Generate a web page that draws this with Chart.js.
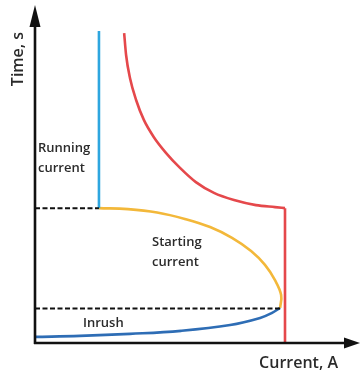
<!DOCTYPE html>
<html>
<head>
<meta charset="utf-8">
<script src="https://cdn.jsdelivr.net/npm/chart.js@4/dist/chart.umd.min.js"></script>
<style>
  html, body { margin: 0; padding: 0; background: #ffffff; }
  #wrap { width: 362px; height: 371px; }
</style>
</head>
<body>
<div id="wrap"><canvas id="c" width="362" height="371"></canvas></div>
<script>
// Schematic units: current 0-100 (x), time 0-100 (y)
const runningX = [19.8, 19.8];
const runningY = [39.9, 92.3];

const tripCurveX = [27.6, 28.2, 29.4, 31.3, 33.7, 36.8, 40.6, 44.9, 49.8, 55.4, 61.6, 68.4, 74.3, 77.4];
const tripCurveY = [91.7, 85.2, 78.4, 71.9, 66.0, 60.9, 56.2, 51.8, 47.6, 44.4, 42.3, 40.8, 40.2, 39.9];
const tripVertX = [77.4, 77.4];
const tripVertY = [39.9, 0];

const startingX = [19.8, 28.8, 37.8, 46.4, 54.2, 61.0, 66.9, 71.2, 74.3, 76.2, 75.9];
const startingY = [39.9, 39.6, 38.6, 36.7, 34.3, 31.1, 27.2, 23.1, 18.6, 14.2, 10.4];

const inrushX = [0, 13.9, 29.4, 45.2, 60.4, 69.7, 73.4, 75.9];
const inrushY = [1.8, 2.1, 2.7, 3.6, 5.3, 7.4, 8.9, 10.4];

const dashUpperX = [0, 19.8];
const dashUpperY = [39.9, 39.9];
const dashLowerX = [0, 75.9];
const dashLowerY = [10.2, 10.2];

const axisTitles = { x: "Current, A", y: "Time, s" };
const labelRunning = ["Running", "current"];
const labelStarting = ["Starting", "current"];
const labelInrush = ["Inrush"];

function pts(xs, ys) { return xs.map((x, i) => ({ x: x, y: ys[i] })); }

function ds(xs, ys, color, width, tension, dash, mode) {
  return {
    data: pts(xs, ys),
    borderColor: color,
    backgroundColor: color,
    borderWidth: width,
    borderDash: dash || [],
    pointRadius: 0,
    pointHoverRadius: 0,
    showLine: true,
    fill: false,
    tension: tension,
    cubicInterpolationMode: mode || 'default',
    clip: false
  };
}

const FONT = '"Open Sans", "DejaVu Sans", sans-serif';

const decor = {
  id: 'decor',
  afterDatasetsDraw(chart) {
    const ctx = chart.ctx;
    const a = chart.chartArea;
    const ox = a.left, oy = a.bottom;
    ctx.save();
    ctx.strokeStyle = '#111';
    ctx.fillStyle = '#111';
    ctx.lineWidth = 2.6;
    // y axis
    ctx.beginPath();
    ctx.moveTo(ox, oy + 1);
    ctx.lineTo(ox, a.top + 18);
    ctx.stroke();
    ctx.beginPath();
    ctx.moveTo(ox, a.top);
    ctx.lineTo(ox - 5.5, a.top + 22);
    ctx.lineTo(ox + 5.5, a.top + 22);
    ctx.closePath();
    ctx.fill();
    // x axis
    ctx.beginPath();
    ctx.moveTo(ox - 1, oy);
    ctx.lineTo(a.right - 12, oy);
    ctx.stroke();
    ctx.beginPath();
    ctx.moveTo(a.right + 2, oy);
    ctx.lineTo(a.right - 14, oy - 5.5);
    ctx.lineTo(a.right - 14, oy + 5.5);
    ctx.closePath();
    ctx.fill();

    // texts
    ctx.fillStyle = '#2b2b2b';
    ctx.textBaseline = 'middle';
    ctx.font = '600 16px ' + FONT;
    ctx.textAlign = 'right';
    ctx.fillText(axisTitles.x, 338, 363);
    ctx.save();
    ctx.translate(18, 59);
    ctx.rotate(-Math.PI / 2);
    ctx.textAlign = 'center';
    ctx.fillText(axisTitles.y, 0, 0);
    ctx.restore();

    ctx.font = '600 13px ' + FONT;
    ctx.textAlign = 'left';
    ctx.fillText(labelRunning[0], 38, 148);
    ctx.fillText(labelRunning[1], 38, 168);
    ctx.fillText(labelStarting[0], 152, 242);
    ctx.fillText(labelStarting[1], 152, 262);
    ctx.fillText(labelInrush[0], 83, 323);
    ctx.restore();
  }
};

new Chart(document.getElementById('c'), {
  type: 'scatter',
  data: {
    datasets: [
      ds(dashUpperX, dashUpperY, '#111111', 2, 0, [5, 2.5]),
      ds(dashLowerX, dashLowerY, '#111111', 2, 0, [5, 2.5]),
      ds(runningX, runningY, '#2ea6df', 2.6, 0),
      ds(tripCurveX, tripCurveY, '#e5484b', 2.6, 0, null, 'monotone'),
      ds(tripVertX, tripVertY, '#e5484b', 2.6, 0),
      ds(startingX, startingY, '#f3b83a', 2.6, 0.4),
      ds(inrushX, inrushY, '#2e6db5', 2.6, 0.4)
    ]
  },
  options: {
    responsive: false,
    animation: false,
    devicePixelRatio: 1,
    layout: { padding: { left: 35, top: 5, right: 4, bottom: 28 } },
    plugins: { legend: { display: false }, tooltip: { enabled: false } },
    scales: {
      x: { type: 'linear', min: 0, max: 100, display: false },
      y: { type: 'linear', min: 0, max: 100, display: false }
    }
  },
  plugins: [decor]
});
</script>
</body>
</html>
